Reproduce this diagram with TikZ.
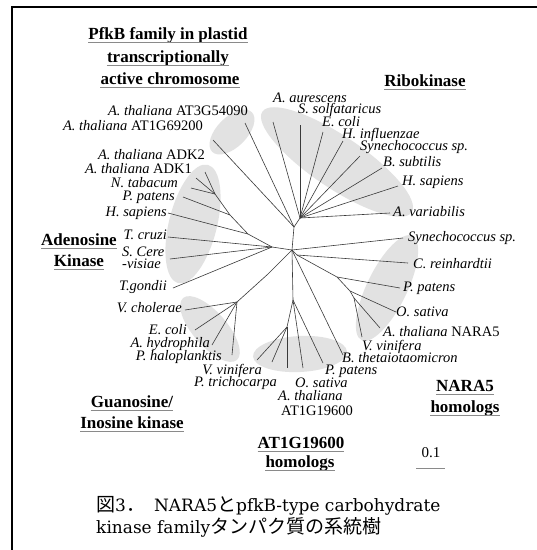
\documentclass[tikz,border=0pt]{standalone}
\usepackage{fontspec}
\setmainfont{Liberation Serif}
\newfontfamily\capfont{DejaVu Serif}
\newfontfamily\cjk[Scale=1.12]{Noto Sans CJK JP}
\definecolor{blobgray}{HTML}{E2E2E2}
\definecolor{ulgray}{HTML}{8A8A8A}
\definecolor{branch}{HTML}{3A3A3A}
\begin{document}
\begin{tikzpicture}[x=1pt,y=-1pt,
  lab/.style={inner sep=0pt,text height=9.5pt,text depth=2.5pt,font=\fontsize{14.5}{15}\selectfont},
  ttl/.style={inner sep=0pt,text height=12pt,text depth=4pt,font=\fontsize{17}{18}\selectfont\bfseries},
  ul/.style={draw=ulgray,line width=1.4pt},
  br/.style={draw=branch,line width=0.6pt},
  blob/.style={fill=blobgray,draw=none},
  captext/.style={inner sep=0pt,anchor=west,text height=13pt,text depth=4pt,font=\capfont\fontsize{17}{20}\selectfont}]
\useasboundingbox (0,0) rectangle (537,550);
\fill[white] (0,0) rectangle (537,550);
% frame
\coordinate (f1) at (12,550);
\coordinate (f2) at (12,7);
\coordinate (f3) at (537,7);
\draw[line width=2pt] (f1) -- (f2) -- (f3);
% grey clade areas
\fill[blob,shift={(232,132)},rotate=45] (0,0) ellipse (28 and 15);
\fill[blob,shift={(337,162)},rotate=-34] (0,0) ellipse (90 and 26);
\fill[blob,shift={(193,224)},rotate=76] (0,0) ellipse (61 and 24);
\fill[blob,shift={(210,329)},rotate=-49] (0,0) ellipse (41 and 17);
\fill[blob,shift={(300,354)},rotate=3] (0,0) ellipse (47 and 18);
\fill[blob,shift={(387,288)},rotate=64] (0,0) ellipse (58 and 20);
% tree coordinates
\coordinate (C) at (292,250);
\coordinate (P) at (294,227);
\coordinate (R) at (300,218);
\coordinate (tAur) at (273,122);
\coordinate (tSol) at (300,125);
\coordinate (tEco) at (323,132);
\coordinate (tHin) at (343,141);
\coordinate (tSyn) at (360,156);
\coordinate (tBsu) at (382,168);
\coordinate (tHsa) at (398,186);
\coordinate (tAva) at (390,213);
\coordinate (tAT3) at (245,123);
\coordinate (tAT1) at (213,140);
\coordinate (A0) at (272,247);
\coordinate (A1) at (248,234);
\coordinate (A2) at (230,215);
\coordinate (A3) at (215,194);
\coordinate (tADK2) at (205,172);
\coordinate (tADK1) at (196,178);
\coordinate (tNta) at (191,188);
\coordinate (tPpa) at (183,197);
\coordinate (tHsap) at (168,213);
\coordinate (tTcr) at (168,237);
\coordinate (tSce) at (170,259);
\coordinate (tTgo) at (173,288);
\coordinate (G0) at (268,274);
\coordinate (G1) at (237,302);
\coordinate (tVch) at (185,310);
\coordinate (tEcg) at (195,330);
\coordinate (tAhy) at (212,345);
\coordinate (tPha) at (232,355);
\coordinate (T0) at (293,300);
\coordinate (T1) at (287,327);
\coordinate (tVvi) at (257,360);
\coordinate (tPtr) at (272,362);
\coordinate (tAth) at (287,368);
\coordinate (tOsa) at (303,368);
\coordinate (tPpt) at (323,363);
\coordinate (tBth) at (343,355);
\coordinate (N0) at (297,255);
\coordinate (N1) at (337,277);
\coordinate (N2) at (350,291);
\coordinate (N3) at (354,298);
\coordinate (tSyn2) at (403,238);
\coordinate (tCre) at (408,263);
\coordinate (tPpn) at (400,288);
\coordinate (tOsn) at (396,312);
\coordinate (tAtn) at (380,328);
\coordinate (tVvn) at (362,337);
% branches
\draw[br] (C) -- (P) -- (R);
\draw[br] (P) -- (tAT3);
\draw[br] (P) -- (tAT1);
\foreach \t in {tAur,tSol,tEco,tHin,tSyn,tBsu,tHsa,tAva} \draw[br] (R) -- (\t);
\draw[br] (C) -- (A0) -- (A1) -- (A2) -- (A3);
\draw[br] (A0) -- (tTcr);
\draw[br] (A0) -- (tSce);
\draw[br] (A0) -- (tTgo);
\draw[br] (A1) -- (tHsap);
\draw[br] (A2) -- (tPpa);
\draw[br] (A3) -- (tNta);
\draw[br] (A3) -- (tADK1);
\draw[br] (A3) -- (tADK2);
\draw[br] (C) -- (G0) -- (G1);
\foreach \t in {tVch,tEcg,tAhy,tPha} \draw[br] (G1) -- (\t);
\draw[br] (C) -- (T0) -- (T1);
\foreach \t in {tVvi,tPtr,tAth} \draw[br] (T1) -- (\t);
\draw[br] (T0) -- (tOsa);
\draw[br] (T0) -- (tPpt);
\draw[br] (C) -- (tBth);
\draw[br] (C) -- (tSyn2);
\draw[br] (C) -- (N0) -- (N1) -- (N2) -- (N3);
\draw[br] (N0) -- (tCre);
\draw[br] (N1) -- (tPpn);
\draw[br] (N2) -- (tOsn);
\draw[br] (N3) -- (tAtn);
\draw[br] (N3) -- (tVvn);
% leaf labels, left side
\node[lab,anchor=east] (lAT3) at (248,112) {\textit{A. thaliana} AT3G54090};
\node[lab,anchor=east] (lAT1) at (203,127) {\textit{A. thaliana} AT1G69200};
\node[lab,anchor=east] (lADK2) at (205,156) {\textit{A. thaliana} ADK2};
\node[lab,anchor=east] (lADK1) at (192,170) {\textit{A. thaliana} ADK1};
\node[lab,anchor=east] (lNta) at (178,184) {\textit{N. tabacum}};
\node[lab,anchor=east] (lPpa) at (175,197) {\textit{P. patens}};
\node[lab,anchor=east] (lHsap) at (167,213) {\textit{H. sapiens}};
\node[lab,anchor=east] (lTcr) at (167,236) {\textit{T. cruzi}};
\node[lab,anchor=west] (lSce1) at (122,253) {\textit{S. Cere}};
\node[lab,anchor=west] (lSce2) at (122,265) {\textit{-visiae}};
\node[lab,anchor=east] (lTgo) at (167,287) {\textit{T.gondii}};
\node[lab,anchor=east] (lVch) at (182,309) {\textit{V. cholerae}};
\node[lab,anchor=east] (lEcg) at (187,331) {\textit{E. coli}};
\node[lab,anchor=east] (lAhy) at (210,344) {\textit{A. hydrophila}};
\node[lab,anchor=east] (lPha) at (222,357) {\textit{P. haloplanktis}};
\node[lab,anchor=east] (lVvi) at (262,371) {\textit{V. vinifera}};
\node[lab,anchor=east] (lPtr) at (277,383) {\textit{P. trichocarpa}};
% bottom
\node[lab,anchor=west] (lOsa) at (295,384) {\textit{O. sativa}};
\node[lab,anchor=west] (lAth1) at (278,397) {\textit{A. thaliana}};
\node[lab,anchor=west] (lAth2) at (281,412) {AT1G19600};
\node[lab,anchor=west] (lPpt) at (325,371) {\textit{P. patens}};
\node[lab,anchor=west] (lBth) at (342,359) {\textit{B. thetaiotaomicron}};
% right side
\node[lab,anchor=west] (lVvn) at (362,347) {\textit{V. vinifera}};
\node[lab,anchor=west] (lAtn) at (383,333) {\textit{A. thaliana} NARA5};
\node[lab,anchor=west] (lOsn) at (396,313) {\textit{O. sativa}};
\node[lab,anchor=west] (lPpn) at (403,288) {\textit{P. patens}};
\node[lab,anchor=west] (lCre) at (413,265) {\textit{C. reinhardtii}};
\node[lab,anchor=west] (lSyn2) at (408,238) {\textit{Synechococcus sp.}};
\node[lab,anchor=west] (lAva) at (393,213) {\textit{A. variabilis}};
\node[lab,anchor=west] (lHsa) at (402,182) {\textit{H. sapiens}};
\node[lab,anchor=west] (lBsu) at (383,163) {\textit{B. subtilis}};
\node[lab,anchor=west] (lSyn) at (360,147) {\textit{Synechococcus sp.}};
\node[lab,anchor=west] (lHin) at (342,135) {\textit{H. influenzae}};
\node[lab,anchor=west] (lEco) at (322,123) {\textit{E. coli}};
\node[lab,anchor=west] (lSol) at (298,110) {\textit{S. solfataricus}};
\node[lab,anchor=west] (lAur) at (273,99) {\textit{A. aurescens}};
% titles
\node[ttl] (pf1) at (168,35) {PfkB family in plastid\hspace{3pt}};
\node[ttl] (pf2) at (168,58) {transcriptionally\hspace{3pt}};
\node[ttl] (pf3) at (170,80) {active chromosome};
\node[ttl] (rib) at (425,82) {Ribokinase};
\node[ttl] (ad1) at (79,241) {Adenosine};
\node[ttl] (ad2) at (79,262) {Kinase};
\node[ttl] (gu1) at (132,403) {Guanosine/};
\node[ttl] (gu2) at (132,424) {Inosine kinase};
\node[ttl] (at1) at (301,444) {AT1G19600\hspace{3pt}};
\node[ttl] (at2) at (300,463) {homologs};
\node[ttl] (na1) at (465,387) {NARA5\hspace{3pt}};
\node[ttl] (na2) at (465,408) {homologs};
\foreach \n in {pf1,pf2,pf3,rib,ad1,ad2,gu1,gu2,at1,at2,na1,na2}
  \draw[ul] ([yshift=1pt]\n.south west) -- ([yshift=1pt]\n.south east);
% scale bar
\node[inner sep=0pt,font=\fontsize{15}{15}\selectfont] (sc) at (431,453) {0.1};
\coordinate (sb1) at (416,468);
\coordinate (sb2) at (445,468);
\draw[draw=ulgray,line width=1pt] (sb1) -- (sb2);
% caption
\node[captext] (cap1) at (96,507) {{\cjk 図}3{\cjk ．}\hspace{9pt}NARA5{\cjk と}pfkB-type carbohydrate};
\node[captext] (cap2) at (96,529) {kinase family{\cjk タンパク質の系統樹}};
\end{tikzpicture}
\end{document}
